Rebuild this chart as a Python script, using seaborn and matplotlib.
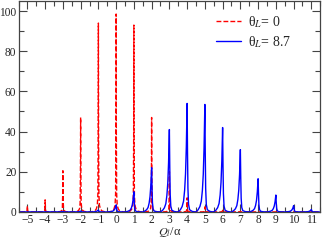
import numpy as np
import pandas as pd
import seaborn as sns
import matplotlib
matplotlib.use("Agg")
import matplotlib.pyplot as plt
from matplotlib.ticker import MultipleLocator

sns.set_theme(style="ticks")
plt.rcParams["font.family"] = ["Liberation Serif", "DejaVu Serif"]
plt.rcParams["mathtext.fontset"] = "stix"

# -------------------------------
# DATA
# -------------------------------
orders = [-5, -4, -3, -2, -1, 0, 1, 2, 3, 4, 5, 6, 7, 8, 9, 10, 11]
red_heights = [3, 6, 20.5, 47, 94, 98.5, 93, 47, 20, 7, 2.5, 0.8, 0.3, 0, 0, 0, 0]
blue_heights = [0, 0, 0.2, 0.4, 1, 3.5, 10, 22, 41, 54, 53.5, 42, 31, 16.5, 8.4, 3.1, 1.2]

# peak shapes: offsets from the order and height relative to the peak top
red_shape_dx = [-0.4, -0.2, -0.12, -0.06, -0.03, -0.012, 0, 0.012, 0.03, 0.06, 0.12, 0.2, 0.4]
red_shape_h = [0, 0.005, 0.015, 0.035, 0.09, 0.38, 1, 0.38, 0.09, 0.035, 0.015, 0.005, 0]
blue_shape_dx = [-0.5, -0.38, -0.28, -0.2, -0.14, -0.09, -0.045, 0, 0.022, 0.045, 0.08, 0.14, 0.28, 0.45]
blue_shape_h = [0, 0.02, 0.05, 0.1, 0.2, 0.35, 0.6, 1, 0.55, 0.22, 0.07, 0.02, 0.005, 0]


def spectrum(heights, dx, dh):
    xs, ys = [], []
    for q, h in zip(orders, heights):
        for d, r in zip(dx, dh):
            xs.append(q + d)
            ys.append(h * r)
    return pd.DataFrame({"Q": xs, "P": ys})


red_df = spectrum(red_heights, red_shape_dx, red_shape_h)
blue_df = spectrum(blue_heights, blue_shape_dx, blue_shape_h)

fig = plt.figure(figsize=(3.22, 2.40), dpi=100)
ax = fig.add_axes([0.0575, 0.117, 0.937, 0.879])

sns.lineplot(data=red_df, x="Q", y="P", ax=ax, color="red", lw=1.0,
             linestyle=(0, (3.5, 1.5)), estimator=None, sort=False,
             label=r"θ$_L$= 0")
sns.lineplot(data=blue_df, x="Q", y="P", ax=ax, color="blue", lw=1.0,
             estimator=None, sort=False, label=r"θ$_L$= 8.7")

ax.set_xlim(-5.5, 11.5)
ax.set_ylim(0, 105)
ax.xaxis.set_major_locator(MultipleLocator(1))
ax.xaxis.set_minor_locator(MultipleLocator(0.5))
ax.yaxis.set_major_locator(MultipleLocator(20))
ax.yaxis.set_minor_locator(MultipleLocator(10))
ax.tick_params(which="both", direction="in", top=True, right=True,
               labelsize=8.3, width=0.8, color="#444444")
ax.tick_params(which="major", length=6)
ax.tick_params(which="minor", length=3.5)
ax.tick_params(axis="x", pad=1.5)
ax.tick_params(axis="y", pad=1.5)
for s in ax.spines.values():
    s.set_linewidth(0.9)
    s.set_color("#444444")

ax.set_xlabel(r"$Q_l$/α", fontsize=8.8)
ax.xaxis.set_label_coords(0.5, -0.064)
ax.set_ylabel("")

leg = ax.legend(loc="upper left", bbox_to_anchor=(0.655, 0.937), frameon=False,
                fontsize=10, handlelength=1.8, handletextpad=0.5,
                labelspacing=0.3, borderaxespad=0, borderpad=0)

fig.savefig("out.png", dpi=100)
